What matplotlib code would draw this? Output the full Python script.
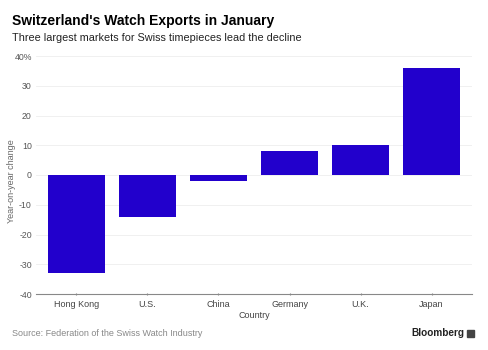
import matplotlib.pyplot as plt

countries = ['Hong Kong', 'U.S.', 'China', 'Germany', 'U.K.', 'Japan']
changes = [-33, -14, -2, 8, 10, 36]
yticks = [-40, -30, -20, -10, 0, 10, 20, 30, 40]
ylabels = ['-40', '-30', '-20', '-10', '0', '10', '20', '30', '40%']

plt.rcParams['font.family'] = ['Liberation Sans', 'DejaVu Sans']

fig = plt.figure(figsize=(4.88, 3.5), dpi=100)
ax = fig.add_axes([36 / 488, 1 - 294 / 350, 436 / 488, 238 / 350])

x = range(len(countries))
ax.bar(x, changes, width=0.8, color='#2200cc', zorder=3)

ax.set_xlim(-0.57, 5.57)
ax.set_ylim(-40, 40)
ax.set_yticks(yticks)
ax.set_yticklabels(ylabels)
ax.set_xticks(list(x))
ax.set_xticklabels(countries)
ax.grid(axis='y', color='#eeeeee', linewidth=0.6, zorder=0)
for s in ['top', 'right', 'left']:
    ax.spines[s].set_visible(False)
ax.spines['bottom'].set_color('#888888')
ax.spines['bottom'].set_linewidth(0.8)
ax.tick_params(axis='y', length=0, labelsize=6.3, labelcolor='#555555', pad=3)
ax.tick_params(axis='x', length=2, direction='inout', color='#888888',
               labelsize=6.5, labelcolor='#444444', pad=3)
ax.set_xlabel('Country', fontsize=6.5, color='#444444', labelpad=2)
ax.set_ylabel('Year-on-year change', fontsize=6.5, color='#666666')
ax.yaxis.set_label_coords(-0.045, 0.475)

fig.text(12 / 488, 1 - 21 / 350, "Switzerland's Watch Exports in January",
         fontsize=10, fontweight='bold', va='center', ha='left')
fig.text(12 / 488, 1 - 38 / 350, 'Three largest markets for Swiss timepieces lead the decline',
         fontsize=7.8, color='#222222', va='center', ha='left')
fig.text(12 / 488, 1 - 333 / 350, 'Source: Federation of the Swiss Watch Industry',
         fontsize=6.5, color='#888888', va='center', ha='left')
fig.text(464 / 488, 1 - 333 / 350, 'Bloomberg',
         fontsize=7.2, fontweight='bold', color='#222222', va='center', ha='right')
fig.patches.append(plt.Rectangle((467 / 488, 1 - 336.5 / 350), 7 / 488, 7 / 350,
                                 transform=fig.transFigure, color='#444444'))

fig.savefig('out.png', dpi=100)
